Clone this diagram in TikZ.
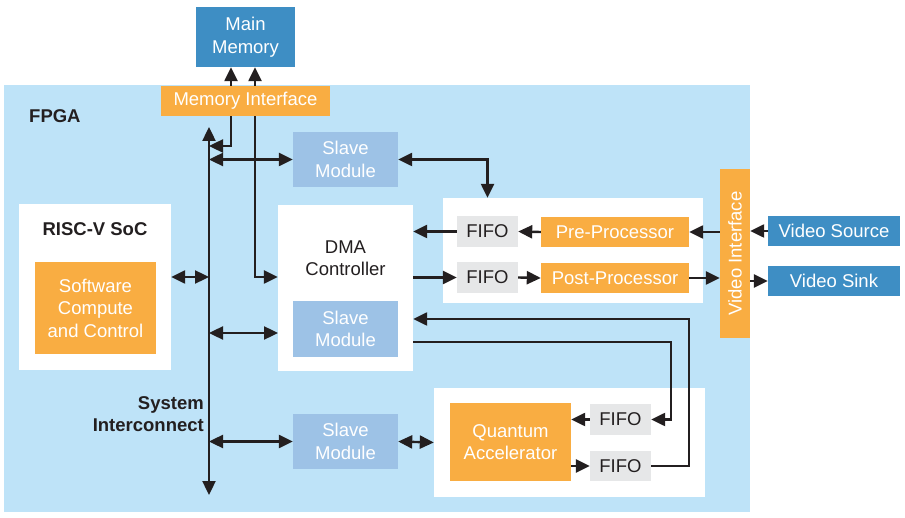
\documentclass[tikz,border=0pt]{standalone}
\usepackage{fontspec}
\setmainfont{Liberation Sans}
\usepackage{graphicx}
\usetikzlibrary{arrows.meta}
\definecolor{fpgabg}{RGB}{190,227,248}
\definecolor{memblue}{RGB}{62,142,196}
\definecolor{accent}{RGB}{249,173,66}
\definecolor{slaveblue}{RGB}{157,194,230}
\definecolor{fifogrey}{RGB}{230,231,232}
\definecolor{ink}{RGB}{35,31,32}

\begin{document}
\begin{tikzpicture}[x=1pt,y=-1pt,
  box/.style={shape=rectangle,inner sep=0pt,align=center,font=\fontsize{18.5}{22.5}\selectfont},
  boldtext/.style={box,text=ink,font=\fontsize{18.5}{22.5}\selectfont\bfseries},
  extbox/.style={box,fill=memblue,text=white},
  orangebox/.style={box,fill=accent,text=white},
  slavebox/.style={box,fill=slaveblue,text=white,minimum width=105pt,minimum height=55pt},
  fifobox/.style={box,fill=fifogrey,text=ink,minimum width=61pt,minimum height=31pt},
  whitebox/.style={box,fill=white},
  arrow/.style={draw=ink,line width=2.4pt,-{Triangle[length=14pt,width=13pt]}},
  biarrow/.style={draw=ink,line width=2.4pt,{Triangle[length=14pt,width=13pt]}-{Triangle[length=14pt,width=13pt]}}]
\useasboundingbox (0,0) rectangle (905,518);
\node[box,fill=fpgabg,minimum width=746pt,minimum height=427pt] (fpga) at (377,298.5) {};
\node[boldtext,anchor=west] (fpgalbl) at (29,116) {FPGA};
\node[extbox,minimum width=99pt,minimum height=60pt] (mainmem) at (245.5,37) {Main\\Memory};
\node[orangebox,minimum width=169pt,minimum height=30pt] (memif) at (245.5,101) {Memory Interface};
\node[slavebox] (sm1) at (345.5,159.5) {Slave\\Module};
\node[whitebox,minimum width=260pt,minimum height=105pt] (vpbox) at (573,250.5) {};
\node[fifobox] (fifo1) at (487.5,231.5) {FIFO};
\node[orangebox,minimum width=148pt,minimum height=30pt] (prep) at (615,232) {Pre-Processor};
\node[fifobox] (fifo2) at (487.5,277.5) {FIFO};
\node[orangebox,minimum width=148pt,minimum height=30pt] (postp) at (615,278) {Post-Processor};
\node[orangebox,minimum width=30pt,minimum height=169pt] (vif) at (735,253.5) {\rotatebox{90}{Video Interface}};
\node[extbox,minimum width=132pt,minimum height=30pt] (vsrc) at (834,231) {Video Source};
\node[extbox,minimum width=132pt,minimum height=30pt] (vsink) at (834,281) {Video Sink};
\node[whitebox,minimum width=135pt,minimum height=166pt] (dma) at (345.5,288) {};
\node[box,text=ink] (dmalbl) at (345.5,258) {DMA\\Controller};
\node[slavebox,minimum height=56pt] (sm2) at (345.5,329) {Slave\\Module};
\node[whitebox,minimum width=152pt,minimum height=166pt] (soc) at (95,287) {};
\node[boldtext] (soclbl) at (95,229) {RISC-V SoC};
\node[orangebox,minimum width=121pt,minimum height=92pt] (sw) at (95.5,308) {Software\\Compute\\and Control};
\node[slavebox] (sm3) at (345.5,441.5) {Slave\\Module};
\node[whitebox,minimum width=271pt,minimum height=109pt] (qbox) at (569.5,442.5) {};
\node[orangebox,minimum width=121pt,minimum height=78pt] (qa) at (510.5,442) {Quantum\\Accelerator};
\node[fifobox] (fifo3) at (620.5,419.5) {FIFO};
\node[fifobox,minimum height=30pt] (fifo4) at (620.5,466) {FIFO};
\node[boldtext,align=right,anchor=east] (syslbl) at (204,414) {System\\Interconnect};

\coordinate (bustop) at (209,127);
\coordinate (busbot) at (209,495);
\coordinate (memA) at (231,146);
\coordinate (memB) at (255,277);
\coordinate (dmaport) at (278,333);
\coordinate (loopA) at (671,342);
\coordinate (loopB) at (689,319);

\draw [biarrow] (bustop) -- (busbot);
\draw [arrow] (memif.north -| memA) -- (mainmem.south -| memA);
\draw [arrow] (memif.north -| memB) -- (mainmem.south -| memB);
\draw [arrow] (memif.south -| memA) |- (bustop |- memA);
\draw [arrow] (memif.south -| memB) |- (dma.west |- memB);
\draw [biarrow] (bustop |- sm1.west) -- (sm1.west);
\draw [biarrow] (sm1.east) -| (fifo1.center |- vpbox.north);
\draw [arrow] (fifo1.west) -- (dma.east |- fifo1.west);
\draw [arrow] (prep.west) -- (fifo1.east);
\draw [arrow] (vif.west |- prep.east) -- (prep.east);
\draw [arrow] (vsrc.west) -- (vif.east |- vsrc.west);
\draw [arrow] (dma.east |- fifo2.west) -- (fifo2.west);
\draw [arrow] (fifo2.east) -- (postp.west);
\draw [arrow] (postp.east) -- (vif.west |- postp.east);
\draw [arrow] (vif.east |- vsink.west) -- (vsink.west);
\draw [biarrow] (soc.east |- memB) -- (bustop |- memB);
\draw [biarrow] (bustop |- dmaport) -- (dmaport);
\draw [biarrow] (bustop |- sm3.west) -- (sm3.west);
\draw [biarrow] (sm3.east) -- (qbox.west);
\draw [arrow] (fifo3.west) -- (qa.east |- fifo3.west);
\draw [arrow] (qa.east |- fifo4.west) -- (fifo4.west);
\draw [arrow] (dma.east |- loopA) -- (loopA) |- (fifo3.east);
\draw [arrow] (fifo4.east) -| (loopB) -- (dma.east |- loopB);
\end{tikzpicture}
\end{document}
